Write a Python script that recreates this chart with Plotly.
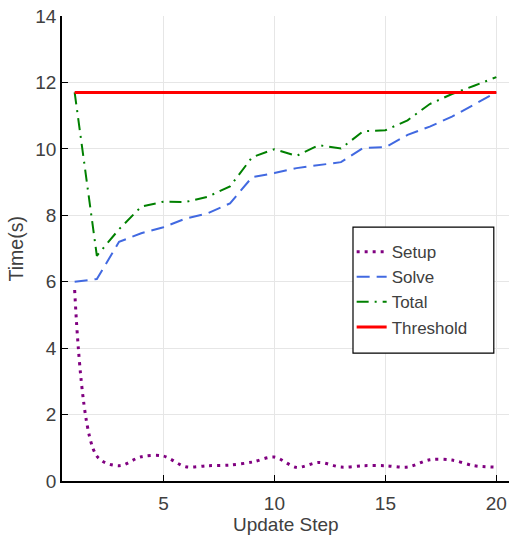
import plotly.graph_objects as go

steps = list(range(1, 21))
setup = [5.75, 0.75, 0.46, 0.73, 0.75, 0.43, 0.46, 0.48, 0.57, 0.72,
         0.41, 0.56, 0.42, 0.46, 0.46, 0.42, 0.64, 0.63, 0.46, 0.42]
solve = [6.0, 6.08, 7.2, 7.46, 7.64, 7.9, 8.06, 8.36, 9.15, 9.27,
         9.42, 9.52, 9.6, 10.03, 10.05, 10.42, 10.67, 10.97, 11.33, 11.7]
total = [11.7, 6.78, 7.58, 8.26, 8.41, 8.4, 8.56, 8.87, 9.75, 9.99,
         9.79, 10.11, 10.01, 10.53, 10.56, 10.86, 11.35, 11.65, 11.9, 12.16]
threshold = [11.7] * 20

names = ["Setup", "Solve", "Total", "Threshold"]
x_title = "Update Step"
y_title = "Time(s)"
font = "Liberation Sans, Arial, Helvetica, sans-serif"
txt = "#404040"

fig = go.Figure()
fig.add_trace(go.Scatter(x=steps, y=setup, name=names[0], mode="lines",
                         line=dict(color="#800080", width=3, dash="3px,5px",
                                   shape="spline", smoothing=0.9)))
fig.add_trace(go.Scatter(x=steps, y=solve, name=names[1], mode="lines",
                         line=dict(color="#4169e1", width=2, dash="13px,7px")))
fig.add_trace(go.Scatter(x=steps, y=total, name=names[2], mode="lines",
                         line=dict(color="#008000", width=2, dash="12px,6px,2px,6px")))
fig.add_trace(go.Scatter(x=steps, y=threshold, name=names[3], mode="lines",
                         line=dict(color="#ff0000", width=3)))

fig.update_layout(
    width=509, height=535,
    margin=dict(l=62, r=0, t=16, b=54, autoexpand=False),
    paper_bgcolor="white", plot_bgcolor="white",
    font=dict(family=font, color=txt, size=19),
    legend=dict(x=0.648, y=0.531, xanchor="left", yanchor="top",
                borderwidth=0, bgcolor="rgba(0,0,0,0)",
                font=dict(size=17, color=txt), tracegroupgap=0,
                itemwidth=30),
    xaxis=dict(range=[0.43, 20.57], tickvals=[5, 10, 15, 20],
               showgrid=True, gridcolor="#e6e6e6", gridwidth=1,
               showline=True, linecolor="black", linewidth=1.5,
               ticks="inside", ticklen=6, tickcolor="black",
               zeroline=False, automargin=False, ticklabelstandoff=4),
    yaxis=dict(range=[0, 14], tickvals=[0, 2, 4, 6, 8, 10, 12, 14],
               showgrid=True, gridcolor="#e6e6e6", gridwidth=1,
               showline=True, linecolor="black", linewidth=1.5,
               ticks="inside", ticklen=6, tickcolor="black",
               zeroline=False, automargin=False, ticklabelstandoff=0),
    shapes=[dict(type="rect", xref="paper", yref="paper",
                 x0=0.651, x1=0.966, y0=0.275, y1=0.546,
                 line=dict(color="black", width=1.2),
                 fillcolor="white", layer="above")],
    annotations=[
        dict(text=x_title, xref="paper", yref="paper", x=0.5, y=-0.0925,
             xanchor="center", yanchor="middle", showarrow=False,
             font=dict(size=19, color=txt)),
        dict(text=y_title, xref="paper", yref="paper", x=-0.103,
             y=0.5, xanchor="center", yanchor="middle", textangle=-90,
             showarrow=False, font=dict(size=19.5, color=txt)),
    ],
)

fig.write_html("out.html", config={"displayModeBar": False},
               post_script="document.body.style.margin='0';")
